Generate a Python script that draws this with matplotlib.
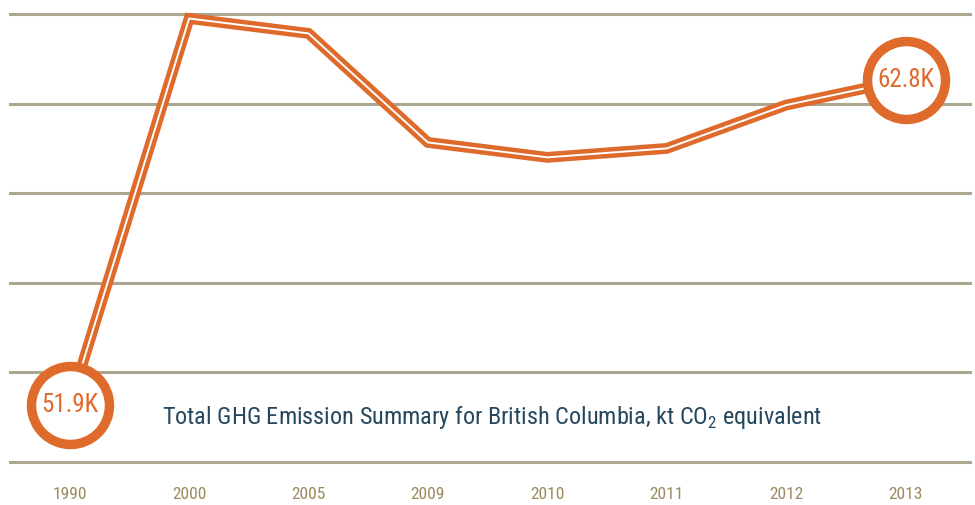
import matplotlib.pyplot as plt

years = ['1990', '2000', '2005', '2009', '2010', '2011', '2012', '2013']
emissions = [51.9, 64.85, 64.35, 60.7, 60.2, 60.5, 61.95, 62.8]
gridvals = [50, 53, 56, 59, 62, 65]
circle_labels = {0: '51.9K', 7: '62.8K'}

orange = '#de6a2b'
blue = '#25485f'
tan = '#9a8a5c'
grid = '#aca790'
cond = ['Roboto Condensed', 'DejaVu Sans']

plt.rcParams['mathtext.fontset'] = 'custom'
plt.rcParams['mathtext.rm'] = 'Roboto Condensed'

fig = plt.figure(figsize=(9.75, 5.05), dpi=100)
# axes placed so the gridlines span x 10..970 px and y 14..462 px
ax = fig.add_axes([10 / 975, 43 / 505, 960 / 975, 448 / 505])
x = list(range(len(years)))
ax.set_xlim(-0.5, 7.54)
ax.set_ylim(50, 65)

for g in gridvals:
    ax.axhline(g, color=grid, linewidth=2.2, clip_on=False, zorder=1)

# double line: thick orange with a thin white stroke inside
ax.plot(x, emissions, color=orange, linewidth=7.8, solid_joinstyle='miter',
        clip_on=False, zorder=3)
ax.plot(x, emissions, color='white', linewidth=1.4, solid_joinstyle='miter',
        clip_on=False, zorder=4)

for i, lab in circle_labels.items():
    ax.scatter(x[i], emissions[i], s=3150, facecolor='white', edgecolor=orange,
               linewidth=6.8, clip_on=False, zorder=5)
    ax.text(x[i], emissions[i], lab, color=orange, fontsize=18, family=cond,
            fontstretch='condensed', ha='center', va='center', zorder=6)

ax.text(0.77, 51.5, r'Total GHG Emission Summary for British Columbia, kt CO$_\mathrm{2}$ equivalent',
        color=blue, fontsize=17.5, family=cond, fontstretch='condensed',
        ha='left', va='center', zorder=6)

ax.set_xticks(x)
ax.set_xticklabels(years, color=tan, fontsize=12.5, family=cond,
                   fontstretch='condensed')
ax.tick_params(axis='x', length=0, pad=18)
ax.set_yticks([])
ax.spines[:].set_visible(False)

fig.savefig('out.png', dpi=100)
